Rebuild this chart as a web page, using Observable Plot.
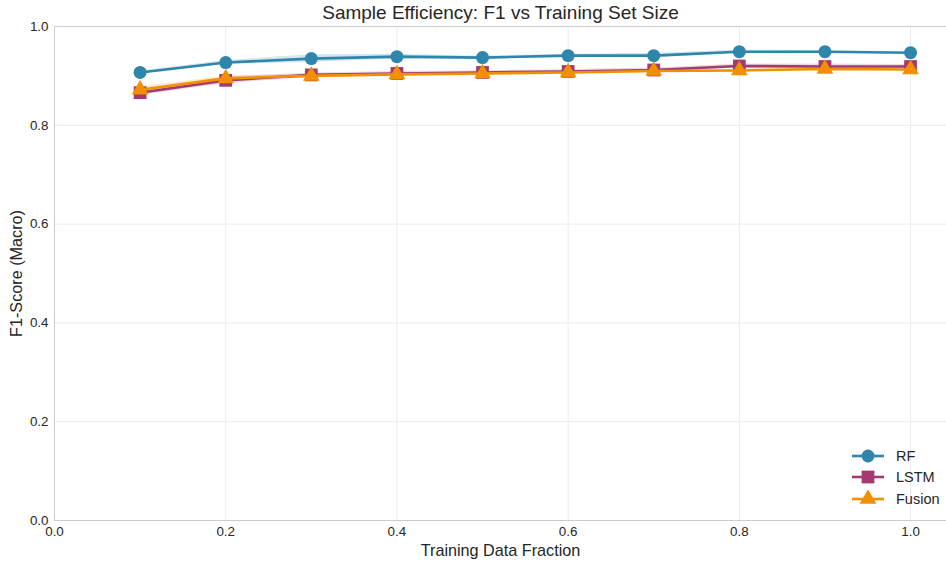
<!DOCTYPE html>
<html>
<head>
<meta charset="utf-8">
<script src="https://cdn.jsdelivr.net/npm/d3@7"></script>
<script src="https://cdn.jsdelivr.net/npm/@observablehq/plot@0.6"></script>
<style>
  body { margin: 0; background: #fff; font-family: "Liberation Sans", Arial, sans-serif; }
  #wrap { position: relative; width: 946px; height: 562px; }
  #legend { position: absolute; left: 850px; top: 445px; font-size: 14.5px; color: #262626; }
  #legend .row { display: flex; align-items: center; height: 21.5px; }
  #legend svg { margin-right: 10px; }
</style>
</head>
<body>
<div id="wrap"></div>
<script>
const fractions = [0.1, 0.2, 0.3, 0.4, 0.5, 0.6, 0.7, 0.8, 0.9, 1.0];
const rfMean     = [0.907, 0.927, 0.935, 0.939, 0.937, 0.941, 0.941, 0.949, 0.949, 0.947];
const rfStd      = [0.003, 0.004, 0.008, 0.005, 0.003, 0.003, 0.005, 0.003, 0.002, 0.002];
const lstmMean   = [0.866, 0.891, 0.902, 0.905, 0.907, 0.909, 0.912, 0.920, 0.919, 0.919];
const lstmStd    = [0.005, 0.007, 0.004, 0.004, 0.003, 0.004, 0.004, 0.004, 0.005, 0.004];
const fusionMean = [0.872, 0.895, 0.900, 0.903, 0.905, 0.907, 0.910, 0.911, 0.914, 0.913];
const fusionStd  = [0.006, 0.005, 0.003, 0.003, 0.003, 0.003, 0.003, 0.002, 0.003, 0.002];
const models = ["RF", "LSTM", "Fusion"];
const colors = ["#2E86AB", "#A23B72", "#F18F01"];
const symbols = ["circle", "square", "triangle"];
const sizes = [6.5, 7.2, 6.2];
const xTicks = [0, 0.2, 0.4, 0.6, 0.8, 1.0];
const yTicks = [0, 0.2, 0.4, 0.6, 0.8, 1.0];

const series = [rfMean, lstmMean, fusionMean];
const stds = [rfStd, lstmStd, fusionStd];
const data = [];
models.forEach((m, i) => fractions.forEach((f, j) => data.push({
  model: m, frac: f, mean: series[i][j], lo: series[i][j] - stds[i][j], hi: series[i][j] + stds[i][j]
})));

const marks = [
  Plot.gridX(xTicks.slice(1), {stroke: "#ebebeb", strokeOpacity: 1}),
  Plot.gridY(yTicks.slice(1), {stroke: "#ebebeb", strokeOpacity: 1}),
  Plot.frame({stroke: "#cccccc"})
];
models.forEach((m, i) => {
  const d = data.filter(r => r.model === m);
  marks.push(Plot.areaY(d, {x: "frac", y1: "lo", y2: "hi", fill: colors[i], fillOpacity: 0.2}));
});
models.forEach((m, i) => {
  const d = data.filter(r => r.model === m);
  marks.push(Plot.line(d, {x: "frac", y: "mean", stroke: colors[i], strokeWidth: 2.6}));
  marks.push(Plot.dot(d, {x: "frac", y: "mean", fill: colors[i], symbol: symbols[i], r: sizes[i], stroke: "none"}));
});
marks.push(Plot.text(["Sample Efficiency: F1 vs Training Set Size"], {
  frameAnchor: "top", lineAnchor: "middle", dy: -14, fontSize: 19, fill: "#262626"
}));

const chart = Plot.plot({
  width: 946, height: 562,
  marginLeft: 54, marginRight: 0, marginTop: 26, marginBottom: 42,
  style: {fontFamily: "Liberation Sans, Arial, sans-serif", fontSize: "13.4px", color: "#262626", background: "#fff"},
  x: {domain: [0, 1.042], ticks: xTicks, tickFormat: d3.format(".1f"), tickSize: 0, tickPadding: 6,
      label: "Training Data Fraction", labelAnchor: "center", labelArrow: "none", labelOffset: 35},
  y: {domain: [0, 1], ticks: yTicks, tickFormat: d3.format(".1f"), tickSize: 0, tickPadding: 6,
      label: "F1-Score (Macro)", labelAnchor: "center", labelArrow: "none", labelOffset: 44},
  marks
});
chart.querySelectorAll('[aria-label="x-axis label"] text, [aria-label="y-axis label"] text').forEach(t => t.setAttribute("font-size", "16.2"));
document.getElementById("wrap").appendChild(chart);

// Legend (inside plot, bottom-right)
const legend = document.createElement("div");
legend.id = "legend";
models.forEach((m, i) => {
  const row = document.createElement("div");
  row.className = "row";
  const s = d3.create("svg").attr("width", 36).attr("height", 18);
  s.append("line").attr("x1", 2).attr("x2", 34).attr("y1", 9).attr("y2", 9).attr("stroke", colors[i]).attr("stroke-width", 2.6);
  s.append("path").attr("transform", "translate(18,9)")
    .attr("d", d3.symbol(d3["symbol" + symbols[i][0].toUpperCase() + symbols[i].slice(1)], Math.PI * sizes[i] ** 2)())
    .attr("fill", colors[i]);
  row.appendChild(s.node());
  const t = document.createElement("span");
  t.textContent = m;
  row.appendChild(t);
  legend.appendChild(row);
});
document.getElementById("wrap").appendChild(legend);
</script>
</body>
</html>
